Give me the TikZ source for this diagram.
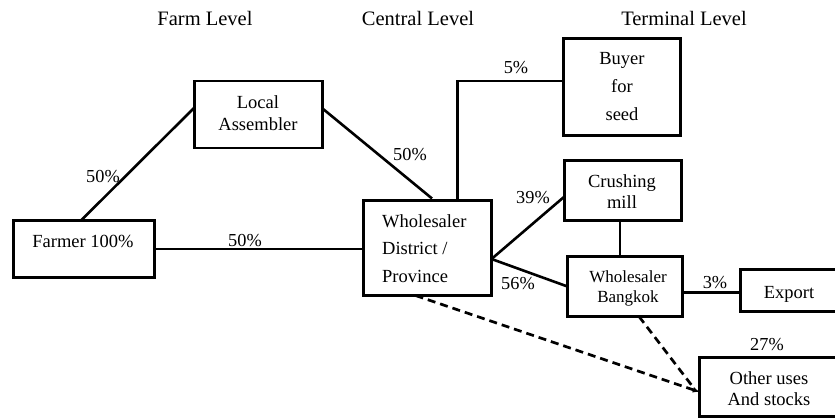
\documentclass[tikz,border=0pt]{standalone}
\usepackage{fontspec}
\setmainfont{Liberation Serif}
\usetikzlibrary{arrows.meta}
\begin{document}
\begin{tikzpicture}[x=1pt,y=-1pt,
  box/.style={draw,line width=2.9pt,inner sep=0pt,outer sep=0pt},
  txt/.style={inner sep=0pt,anchor=base,align=center},
  head/.style={txt,font=\fontsize{20.5}{24}\selectfont},
  pct/.style={txt,font=\fontsize{18.3}{22}\selectfont},
  link/.style={line width=2.6pt},
  thin link/.style={line width=2.1pt},
  flow/.style={line width=2.7pt,dash pattern=on 8pt off 5pt},
]
\useasboundingbox (0,0) rectangle (835,420);
\clip (0,0) rectangle (835,420);

% level headings
\node[head] (hfarm) at (205,26) {Farm Level};
\node[head] (hcentral) at (418,26) {Central Level};
\node[head] (hterm) at (684,26) {Terminal Level};

% boxes
\node[box,minimum width=141pt,minimum height=57pt] (farmer) at (84,249) {};
\node[box,minimum width=128pt,minimum height=67pt] (local) at (258.5,114.5) {};
\node[box,minimum width=128pt,minimum height=95pt] (whole) at (427.5,248) {};
\node[box,minimum width=117pt,minimum height=97pt] (buyer) at (622,87) {};
\node[box,minimum width=117pt,minimum height=60pt] (crush) at (623,190.5) {};
\node[box,minimum width=115pt,minimum height=60pt] (bkk) at (625,286.5) {};
\node[box,minimum width=129.5pt,minimum height=42pt] (export) at (805,290.5) {};
\node[box,minimum width=170.5pt,minimum height=59pt] (other) at (785,387) {};

% box texts (anchored on the baseline of their last line)
\node[txt,font=\fontsize{18.5}{22}\selectfont] (farmer-t) at (83,247) {Farmer 100\%};
\node[txt,font=\fontsize{18.5}{22}\selectfont] (local-t) at (258,130) {Local\\Assembler};
\node[txt,align=left,anchor=base west,font=\fontsize{18.5}{27.5}\selectfont] (whole-t) at (382,282) {Wholesaler\\District /\\Province};
\node[txt,font=\fontsize{18.5}{27.5}\selectfont] (buyer-t) at (622,120) {Buyer\\for\\seed};
\node[txt,font=\fontsize{18.5}{21}\selectfont] (crush-t) at (622,208) {Crushing\\mill};
\node[txt,font=\fontsize{17}{20}\selectfont] (bkk-t) at (628,302) {Wholesaler\\Bangkok};
\node[txt,font=\fontsize{18.5}{22}\selectfont] (export-t) at (789,298) {Export};
\node[txt,font=\fontsize{18.5}{21}\selectfont] (other-t) at (769,405) {Other uses\\And stocks};

% connectors
\draw[link] ([xshift=-3pt]farmer.north) -- ([yshift=7pt]local.west);
\draw[link] ([yshift=6pt]local.east) -- ([xshift=4.5pt,yshift=2pt]whole.north);
\draw[link] (farmer.east) -- (farmer.east -| whole.west);
\draw[thin link] ([xshift=30pt]whole.north) |- ([yshift=6pt]buyer.west);
\coordinate (wout) at ([yshift=-11pt]whole.east);
\draw[link] (wout) -- ([yshift=-6pt]crush.west);
\draw[link] (wout) -- (bkk.west);
\draw[link] ([xshift=-3pt]crush.south) -- ([xshift=-3pt]crush.south |- bkk.north);
\draw[link] ([yshift=-2pt]bkk.east |- export.west) -- ([yshift=-2pt]export.west);
\draw[flow,-{Latex[length=7pt,width=6pt]}] ([xshift=-12pt]whole.south) -- ([yshift=-5pt]other.west);
\draw[flow] ([xshift=14pt]bkk.south) -- ([xshift=-6pt,yshift=-1pt]other.west);

% shares
\node[pct] (p1) at (103,182) {50\%};
\node[pct] (p2) at (410,160) {50\%};
\node[pct] (p3) at (245,246) {50\%};
\node[pct] (p4) at (516,74) {5\%};
\node[pct] (p5) at (533,203) {39\%};
\node[pct] (p6) at (518,289) {56\%};
\node[pct] (p7) at (715,288) {3\%};
\node[pct] (p8) at (767,350) {27\%};
\end{tikzpicture}
\end{document}
